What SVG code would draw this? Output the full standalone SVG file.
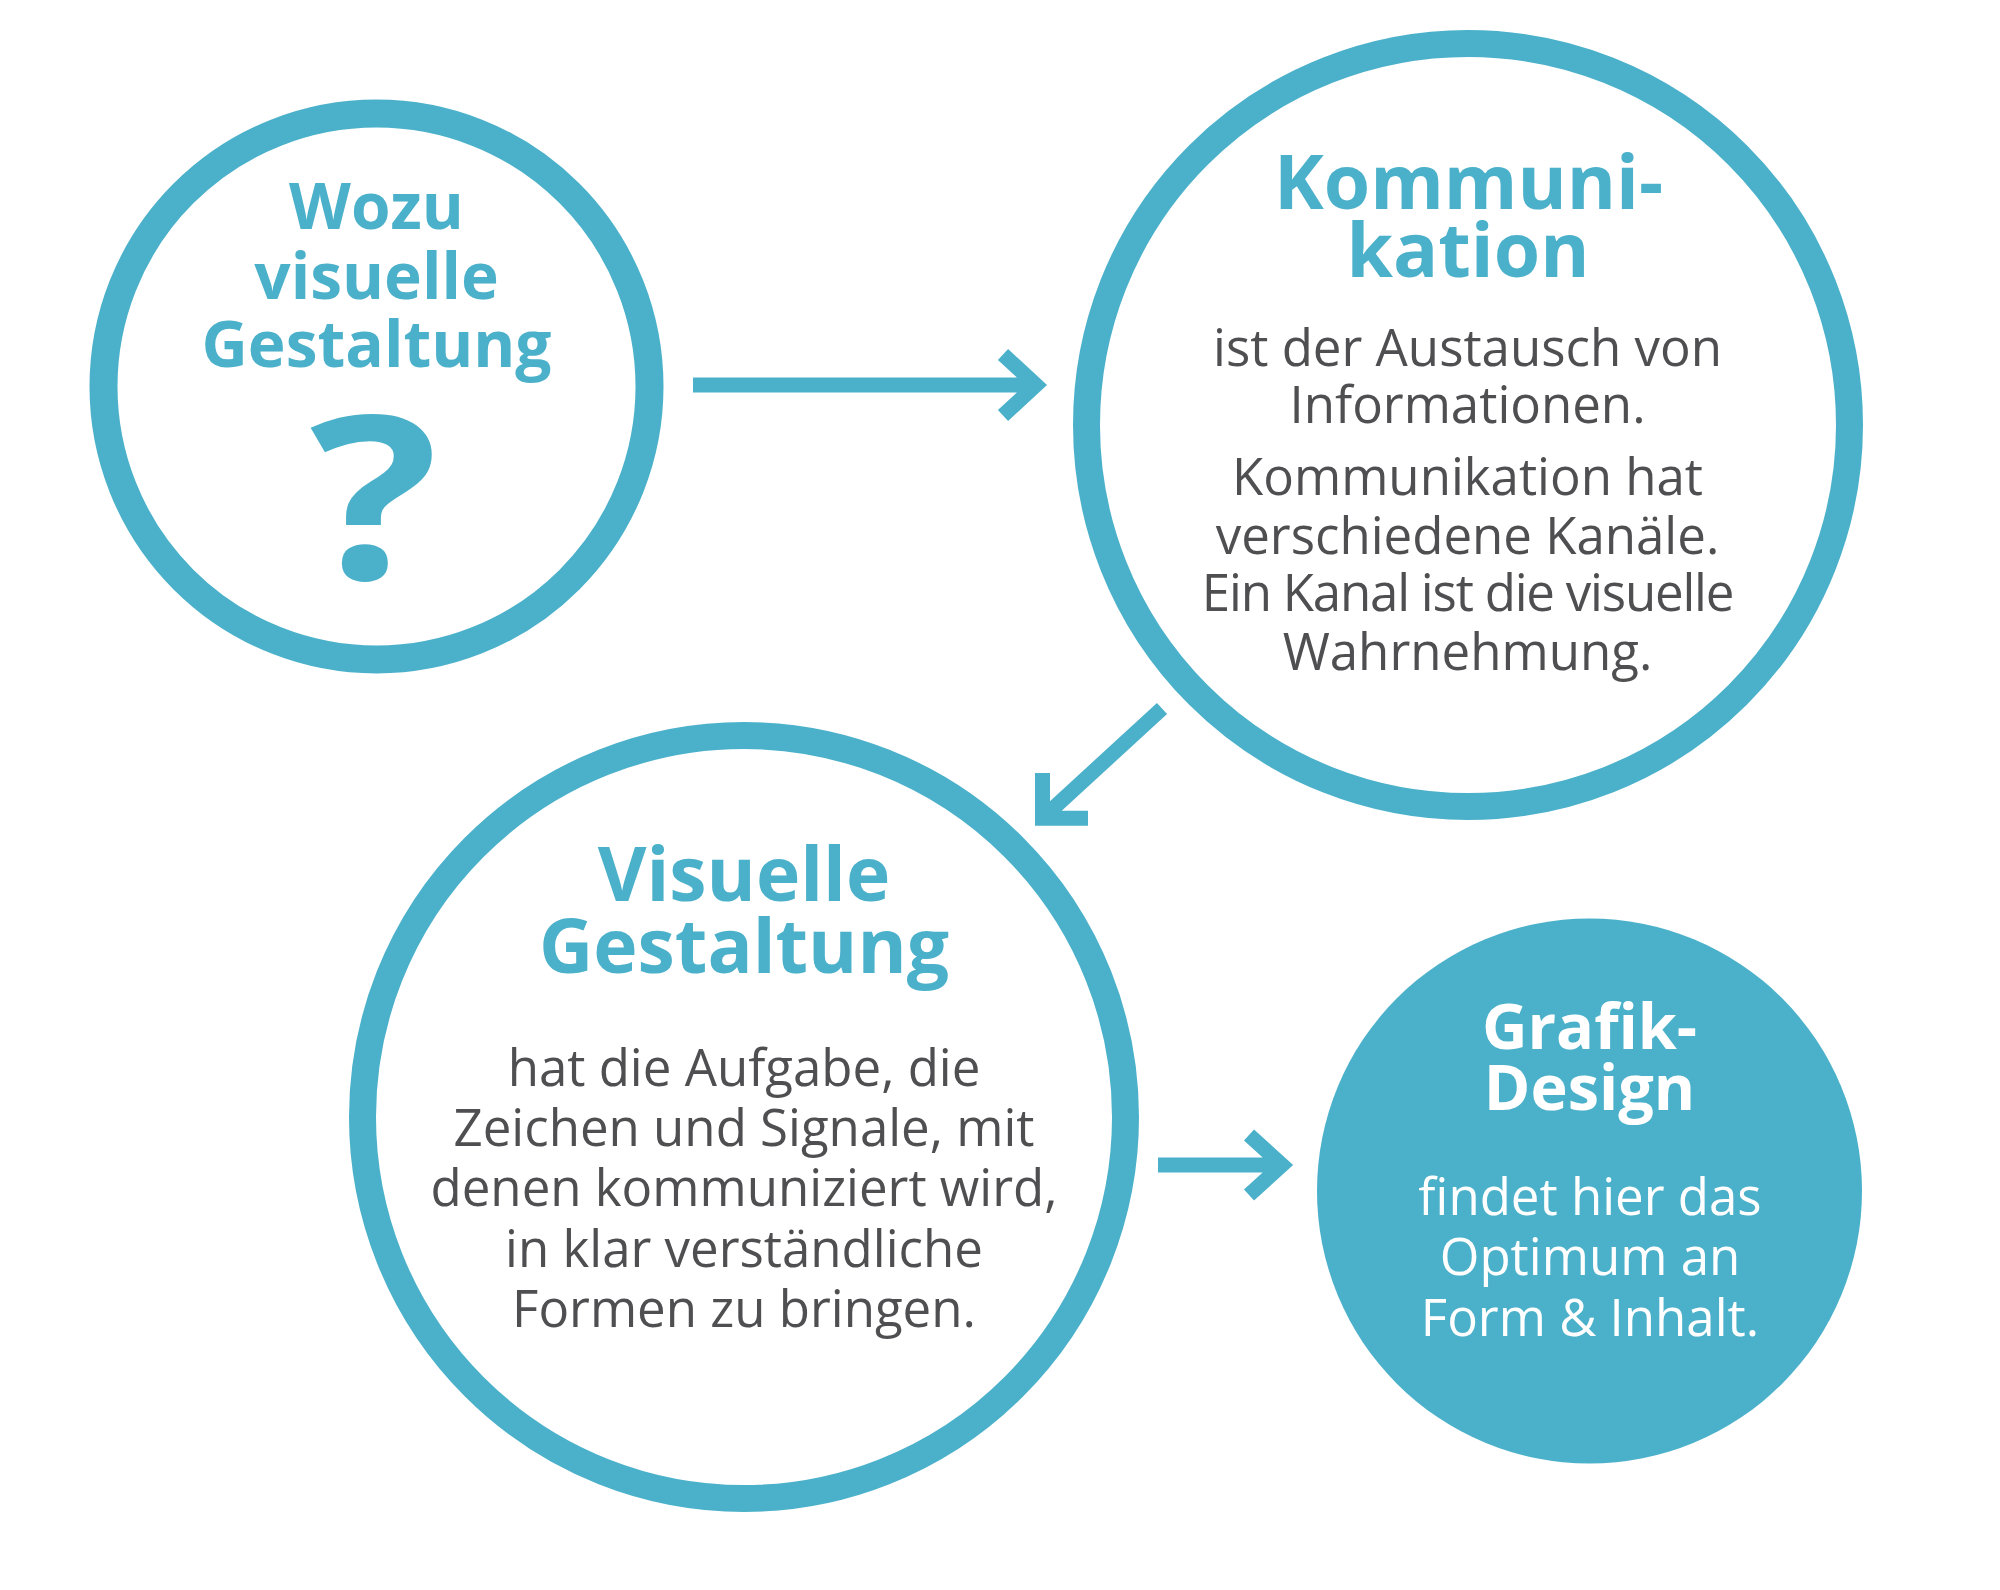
<svg xmlns="http://www.w3.org/2000/svg" width="2000" height="1590" viewBox="0 0 2000 1590">
<style>
.ring{fill:#ffffff;stroke:#4bb1ca}
.h{font-family:"Open Sans","Liberation Sans",sans-serif;font-weight:700;fill:#4bb1ca;text-anchor:middle}
.b{font-family:"Open Sans","Liberation Sans",sans-serif;font-weight:400;fill:#4f4f51;text-anchor:middle;font-size:51px}
.w{fill:#ffffff}
.arrow{fill:none;stroke:#4bb1ca;stroke-width:15;stroke-linejoin:miter;stroke-linecap:butt}
</style>
<rect width="2000" height="1590" fill="#ffffff"/>
<g id="node-wozu">
<circle class="ring" cx="376.5" cy="386.5" r="273" stroke-width="28"/>
<text class="h" font-size="64"><tspan x="376.5" y="228.5">Wozu</tspan><tspan x="376.5" y="298.6">visuelle</tspan><tspan x="376.5" y="366.7">Gestaltung</tspan></text>
<text class="h" font-size="228" x="0" y="0" transform="translate(374,579) scale(1.18,1)">?</text>
</g>
<g id="node-kommunikation">
<circle class="ring" cx="1468" cy="425" r="381.5" stroke-width="27"/>
<text class="h" font-size="75"><tspan x="1468.5" y="209">Kommuni-</tspan><tspan x="1468" y="277.3">kation</tspan></text>
<text class="b"><tspan x="1467.5" y="366">ist der Austausch von</tspan><tspan x="1467.5" y="422.7">Informationen.</tspan></text>
<text class="b"><tspan x="1467.5" y="495">Kommunikation hat</tspan><tspan x="1467.5" y="553.5">verschiedene Kanäle.</tspan><tspan x="1467.5" y="611" letter-spacing="-1.2">Ein Kanal ist die visuelle</tspan><tspan x="1467.5" y="669.6">Wahrnehmung.</tspan></text>
</g>
<g id="node-visuelle-gestaltung">
<circle class="ring" cx="744" cy="1117" r="381.5" stroke-width="27"/>
<text class="h" font-size="75"><tspan x="744" y="901">Visuelle</tspan><tspan x="744" y="972.5">Gestaltung</tspan></text>
<text class="b"><tspan x="744" y="1085.5">hat die Aufgabe, die</tspan><tspan x="744" y="1145.7">Zeichen und Signale, mit</tspan><tspan x="744" y="1205.8">denen kommuniziert wird,</tspan><tspan x="744" y="1267">in klar verständliche</tspan><tspan x="744" y="1327">Formen zu bringen.</tspan></text>
</g>
<g id="node-grafik-design">
<circle cx="1589.5" cy="1191" r="272.5" fill="#4bb1ca"/>
<text class="h w" font-size="63"><tspan x="1589.5" y="1049">Grafik-</tspan><tspan x="1589.5" y="1110">Design</tspan></text>
<text class="b w"><tspan x="1590" y="1214.5">findet hier das</tspan><tspan x="1590" y="1274.8">Optimum an</tspan><tspan x="1590" y="1335.8">Form &amp; Inhalt.</tspan></text>
</g>
<g id="connectors">
<path class="arrow" d="M693,385 H1036 M1003,354.5 L1036,385 L1003,415.5"/>
<path class="arrow" d="M1162,708.5 L1042.5,818.2 M1042.5,773 V818.2 H1088"/>
<path class="arrow" d="M1158,1165 H1282 M1249,1135 L1282,1165 L1249,1195"/>
</g>
</svg>
